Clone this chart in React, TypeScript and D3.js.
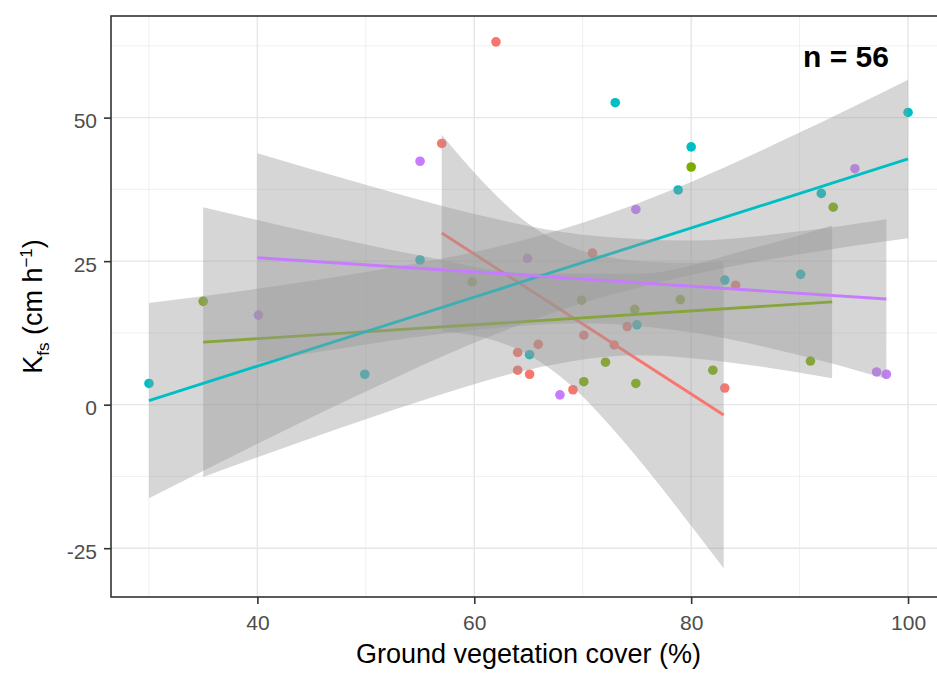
import React, { useRef, useEffect } from 'react';
import * as d3 from 'd3';

// ggplot default hue palette, group order 1..4
const groupColors = ['#F8766D', '#7CAE00', '#00BFC4', '#C77CFF'];

// observed points per group
const redX = [57, 62, 64, 64, 65.1, 65.9, 69.1, 83.1, 70.9, 74.1, 70.1, 72.9, 84.1];
const redY = [45.5, 63.2, 9.1, 6.0, 5.3, 10.5, 2.6, 2.9, 26.4, 13.6, 12.1, 10.4, 20.8];
const greenX = [35, 80, 93.1, 72.1, 70.1, 74.9, 82, 91, 79, 74.8, 69.9, 59.8];
const greenY = [18.0, 41.4, 34.4, 7.4, 4.0, 3.7, 6.0, 7.6, 18.3, 16.6, 18.2, 21.4];
const cyanX = [73, 78.8, 80, 100, 92, 30, 49.9, 55, 75, 65.1, 83.1, 90.1];
const cyanY = [52.6, 37.4, 44.9, 50.9, 36.8, 3.7, 5.3, 25.2, 13.9, 8.7, 21.7, 22.7];
const purpleX = [55, 74.9, 95.1, 40.1, 64.9, 67.9, 97.1, 98];
const purpleY = [42.4, 34.0, 41.1, 15.6, 25.5, 1.7, 5.7, 5.3];

// lm fit lines (end points)
const redFitX = [57, 83];
const redFitY = [29.9, -1.8];
const greenFitX = [35, 93];
const greenFitY = [10.9, 17.9];
const cyanFitX = [30, 100];
const cyanFitY = [0.7, 42.8];
const purpleFitX = [40, 98];
const purpleFitY = [25.6, 18.4];

// confidence ribbons
const redBandX = [57, 61, 65, 69, 73, 77, 80, 83];
const redBandLo = [12.8, 11.6, 8.7, 3.2, -4.7, -13.8, -21.1, -28.5];
const redBandHi = [47.0, 38.4, 31.5, 27.4, 25.5, 24.8, 24.7, 24.9];
const greenBandX = [35, 45, 55, 65, 75, 85, 93];
const greenBandLo = [-12.6, -5.8, 0.6, 6.1, 8.6, 7.0, 4.6];
const greenBandHi = [34.4, 30.0, 26.0, 22.9, 22.8, 26.9, 31.2];
const cyanBandX = [30, 40, 50, 60, 70, 80, 90, 100];
const cyanBandLo = [-16.3, -6.8, 2.3, 10.8, 17.7, 22.6, 26.2, 29.0];
const cyanBandHi = [17.7, 20.2, 23.1, 26.6, 31.7, 38.8, 47.4, 56.6];
const purpleBandX = [40, 50, 60, 70, 80, 90, 98];
const purpleBandLo = [7.4, 10.5, 13.0, 14.2, 12.6, 8.6, 4.5];
const purpleBandHi = [43.8, 38.3, 33.2, 29.6, 28.6, 30.2, 32.3];

const xTicks = [40, 60, 80, 100];
const xMinor = [30, 50, 70, 90];
const yTicks = [-25, 0, 25, 50];
const yMinor = [-12.5, 12.5, 37.5, 62.5];

const font = '"Liberation Sans", Arial, sans-serif';

type Group = {
  color: string;
  px: number[];
  py: number[];
  fx: number[];
  fy: number[];
  bx: number[];
  lo: number[];
  hi: number[];
};

const groups: Group[] = [
  { color: groupColors[0], px: redX, py: redY, fx: redFitX, fy: redFitY, bx: redBandX, lo: redBandLo, hi: redBandHi },
  { color: groupColors[1], px: greenX, py: greenY, fx: greenFitX, fy: greenFitY, bx: greenBandX, lo: greenBandLo, hi: greenBandHi },
  { color: groupColors[2], px: cyanX, py: cyanY, fx: cyanFitX, fy: cyanFitY, bx: cyanBandX, lo: cyanBandLo, hi: cyanBandHi },
  { color: groupColors[3], px: purpleX, py: purpleY, fx: purpleFitX, fy: purpleFitY, bx: purpleBandX, lo: purpleBandLo, hi: purpleBandHi },
];

const Chart = () => {
  const ref = useRef<SVGSVGElement | null>(null);

  const width = 937;
  const height = 677;
  const panel = { left: 111, top: 16, right: 946, bottom: 597 };

  useEffect(() => {
    if (!ref.current) {
      return;
    }
    const svg = d3.select(ref.current);
    svg.selectAll('*').remove();

    const x = d3.scaleLinear().domain([26.5, 103.5]).range([panel.left, panel.right]);
    const y = d3.scaleLinear().domain([-33.5, 67.7]).range([panel.bottom, panel.top]);

    svg.append('rect').attr('width', width).attr('height', height).attr('fill', '#fff');

    // grid
    const grid = svg.append('g');
    grid
      .selectAll('.xminor')
      .data(xMinor)
      .join('line')
      .attr('x1', (d) => x(d))
      .attr('x2', (d) => x(d))
      .attr('y1', panel.top)
      .attr('y2', panel.bottom)
      .attr('stroke', '#EBEBEB')
      .attr('stroke-width', 0.8);
    grid
      .selectAll('.yminor')
      .data(yMinor)
      .join('line')
      .attr('x1', panel.left)
      .attr('x2', panel.right)
      .attr('y1', (d) => y(d))
      .attr('y2', (d) => y(d))
      .attr('stroke', '#EBEBEB')
      .attr('stroke-width', 0.8);
    grid
      .selectAll('.xmajor')
      .data(xTicks)
      .join('line')
      .attr('x1', (d) => x(d))
      .attr('x2', (d) => x(d))
      .attr('y1', panel.top)
      .attr('y2', panel.bottom)
      .attr('stroke', '#E6E6E6')
      .attr('stroke-width', 1.4);
    grid
      .selectAll('.ymajor')
      .data(yTicks)
      .join('line')
      .attr('x1', panel.left)
      .attr('x2', panel.right)
      .attr('y1', (d) => y(d))
      .attr('y2', (d) => y(d))
      .attr('stroke', '#E6E6E6')
      .attr('stroke-width', 1.4);

    // points (drawn under the smooth ribbons)
    groups.forEach((g) => {
      svg
        .append('g')
        .selectAll('circle')
        .data(g.px.map((v, i) => [v, g.py[i]]))
        .join('circle')
        .attr('cx', (d) => x(d[0]))
        .attr('cy', (d) => y(d[1]))
        .attr('r', 4.8)
        .attr('fill', g.color);
    });

    // ribbons + fit lines, one group at a time
    groups.forEach((g) => {
      const area = d3
        .area<number>()
        .curve(d3.curveMonotoneX)
        .x((i) => x(g.bx[i]))
        .y0((i) => y(g.lo[i]))
        .y1((i) => y(g.hi[i]));
      svg
        .append('path')
        .datum(d3.range(g.bx.length))
        .attr('d', area)
        .attr('fill', '#999999')
        .attr('fill-opacity', 0.4);

      const line = d3
        .line<number>()
        .x((i) => x(g.fx[i]))
        .y((i) => y(g.fy[i]));
      svg
        .append('path')
        .datum(d3.range(g.fx.length))
        .attr('d', line)
        .attr('fill', 'none')
        .attr('stroke', g.color)
        .attr('stroke-width', 2.9);
    });

    // panel border
    svg
      .append('rect')
      .attr('x', panel.left)
      .attr('y', panel.top)
      .attr('width', panel.right - panel.left)
      .attr('height', panel.bottom - panel.top)
      .attr('fill', 'none')
      .attr('stroke', '#333333')
      .attr('stroke-width', 1.6);

    // axes
    const xAxis = d3.axisBottom(x).tickValues(xTicks).tickSize(7).tickPadding(11).tickFormat((d) => String(d));
    const gx = svg.append('g').attr('transform', `translate(0,${panel.bottom})`).call(xAxis);
    gx.select('.domain').remove();
    gx.selectAll('line').attr('stroke', '#333333').attr('stroke-width', 1.6);
    gx.selectAll('text').attr('fill', '#4D4D4D').style('font-size', '21px').style('font-family', font);

    const yAxis = d3.axisLeft(y).tickValues(yTicks).tickSize(7).tickPadding(7).tickFormat((d) => String(d));
    const gy = svg.append('g').attr('transform', `translate(${panel.left},0)`).call(yAxis);
    gy.select('.domain').remove();
    gy.selectAll('line').attr('stroke', '#333333').attr('stroke-width', 1.6);
    gy.selectAll('text')
      .attr('fill', '#4D4D4D')
      .attr('dy', '0.49em')
      .style('font-size', '21px')
      .style('font-family', font);

    // x title
    svg
      .append('text')
      .attr('x', (panel.left + panel.right) / 2)
      .attr('y', 663)
      .attr('text-anchor', 'middle')
      .style('font-family', font)
      .style('font-size', '27px')
      .attr('fill', '#000')
      .text('Ground vegetation cover (%)');

    // y title
    const yt = svg
      .append('text')
      .attr('transform', `translate(42,${(panel.top + panel.bottom) / 2}) rotate(-90)`)
      .attr('text-anchor', 'middle')
      .style('font-family', font)
      .style('font-size', '27px')
      .attr('fill', '#000');
    yt.append('tspan').text('K');
    yt.append('tspan').attr('dy', 7).style('font-size', '17px').text('fs');
    yt.append('tspan').attr('dy', -7).text(' (cm h');
    yt.append('tspan').attr('dy', -10).style('font-size', '17px').text('\u22121');
    yt.append('tspan').attr('dy', 10).text(')');

    // annotation
    svg
      .append('text')
      .attr('x', 803)
      .attr('y', 67)
      .style('font-family', font)
      .style('font-size', '30px')
      .style('font-weight', 'bold')
      .attr('fill', '#000')
      .text('n = 56');
  }, []);

  return (
    <svg
      ref={ref}
      width={width}
      height={height}
      style={{ position: 'absolute', left: 0, top: 0 }}
    />
  );
};

export default function App() {
  return <Chart />;
}
